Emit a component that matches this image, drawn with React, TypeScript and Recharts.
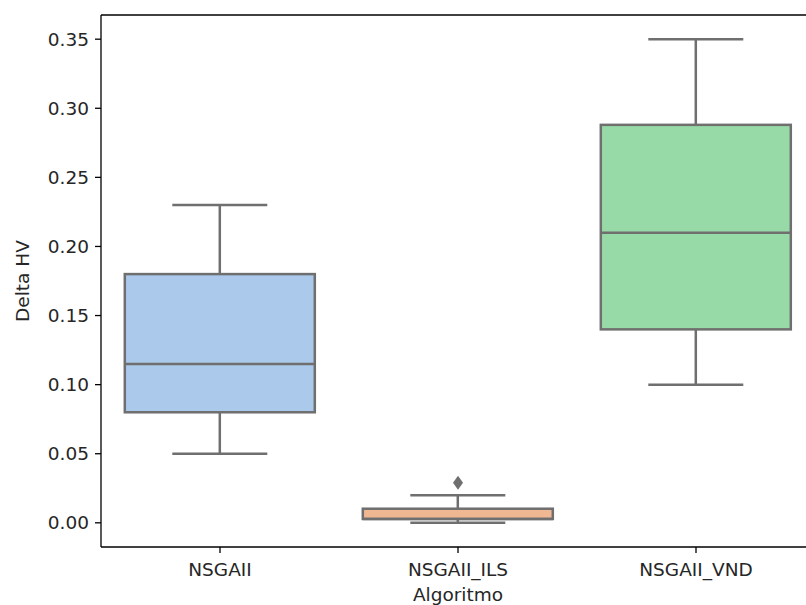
import { ComposedChart, Bar, Scatter, XAxis, YAxis, ReferenceLine } from 'recharts';

// five-number summaries per algorithm
const algoritmos = ['NSGAII', 'NSGAII_ILS', 'NSGAII_VND'];
const whiskerLow = [0.05, 0.0, 0.1];
const q1 = [0.08, 0.0028, 0.14];
const medians = [0.115, 0.0028, 0.21];
const q3 = [0.18, 0.0102, 0.288];
const whiskerHigh = [0.23, 0.02, 0.35];
const outliers = [{ algoritmo: 'NSGAII_ILS', outlier: 0.029 }];

const yTicks = [0, 0.05, 0.1, 0.15, 0.2, 0.25, 0.3, 0.35];
const yDomain = [-0.0175, 0.3675];
const boxColors = ['#abc9ea', '#efb792', '#98daa7'];
const lineGray = '#6f6f6f';
const textColor = '#262626';
const font = 'DejaVu Sans, sans-serif';
const fontSize = 18.5;

const data = algoritmos.map((algoritmo, i) => ({
  algoritmo,
  whisker: [whiskerLow[i], whiskerHigh[i]],
  box: [q1[i], q3[i]],
  q1: q1[i],
  median: medians[i],
  q3: q3[i],
}));

const norm = (y: number, h: number) => (h < 0 ? [y + h, -h] : [y, h]);

const WhiskerShape = (props: any) => {
  const [top, h] = norm(props.y, props.height);
  const cx = props.x + props.width / 2;
  const cap = props.width / 4;
  return (
    <g stroke={lineGray} strokeWidth={2.5}>
      <line x1={cx} x2={cx} y1={top} y2={top + h} />
      <line x1={cx - cap} x2={cx + cap} y1={top} y2={top} />
      <line x1={cx - cap} x2={cx + cap} y1={top + h} y2={top + h} />
    </g>
  );
};

const BoxShape = (props: any) => {
  const { x, width, payload } = props;
  const [top, h] = norm(props.y, props.height);
  const span = payload.q3 - payload.q1;
  const my = span > 0 ? top + (h * (payload.q3 - payload.median)) / span : top + h;
  const color = boxColors[algoritmos.indexOf(payload.algoritmo)];
  return (
    <g>
      <rect x={x} y={top} width={width} height={h} fill={color} stroke={lineGray} strokeWidth={2.5} />
      <line x1={x} x2={x + width} y1={my} y2={my} stroke={lineGray} strokeWidth={2.5} />
    </g>
  );
};

const Diamond = (props: any) => {
  const { cx, cy } = props;
  return (
    <polygon
      points={`${cx},${cy - 7} ${cx + 5},${cy} ${cx},${cy + 7} ${cx - 5},${cy}`}
      fill={lineGray}
    />
  );
};

const axisStyle = { stroke: '#000', strokeWidth: 1.3 };
const tickStyle = { fill: textColor, fontSize, fontFamily: font };

export default function App() {
  return (
    <div
      style={{
        position: 'absolute',
        left: 0,
        top: 0,
        width: 806,
        height: 605,
        overflow: 'hidden',
        background: '#fff',
      }}
    >
      <ComposedChart
        width={830}
        height={605}
        data={data}
        margin={{ top: 15, right: 15, bottom: 0, left: 0 }}
        barCategoryGap="10%"
      >
        <XAxis
          xAxisId="main"
          dataKey="algoritmo"
          type="category"
          allowDuplicatedCategory={false}
          height={58}
          axisLine={axisStyle}
          tickLine={axisStyle}
          tickSize={6}
          tickMargin={10}
          tick={tickStyle}
          label={{
            content: (p: any) => {
              const vb = p.viewBox;
              return (
                <text
                  x={vb.x + vb.width / 2}
                  y={594}
                  textAnchor="middle"
                  dominantBaseline="central"
                  fill={textColor}
                  fontSize={fontSize}
                  fontFamily={font}
                >
                  Algoritmo
                </text>
              );
            },
          }}
        />
        <XAxis xAxisId="top" dataKey="algoritmo" orientation="top" hide />
        <YAxis
          type="number"
          domain={yDomain}
          allowDataOverflow
          ticks={yTicks}
          tickFormatter={(v: number) => v.toFixed(2)}
          width={101}
          axisLine={axisStyle}
          tickLine={axisStyle}
          tickSize={6}
          tickMargin={6}
          tick={tickStyle}
          label={{
            content: (p: any) => {
              const vb = p.viewBox;
              const cy = vb.y + vb.height / 2;
              return (
                <text
                  x={22}
                  y={cy}
                  transform={`rotate(-90, 22, ${cy})`}
                  textAnchor="middle"
                  dominantBaseline="central"
                  fill={textColor}
                  fontSize={fontSize}
                  fontFamily={font}
                >
                  Delta HV
                </text>
              );
            },
          }}
        />
        {/* top spine */}
        <ReferenceLine xAxisId="main" y={yDomain[1]} stroke="#000" strokeWidth={1.3} />
        <Bar xAxisId="top" dataKey="whisker" shape={WhiskerShape} isAnimationActive={false} />
        <Bar xAxisId="main" dataKey="box" shape={BoxShape} isAnimationActive={false} />
        <Scatter
          xAxisId="main"
          data={outliers}
          dataKey="outlier"
          shape={Diamond}
          isAnimationActive={false}
        />
      </ComposedChart>
    </div>
  );
}
